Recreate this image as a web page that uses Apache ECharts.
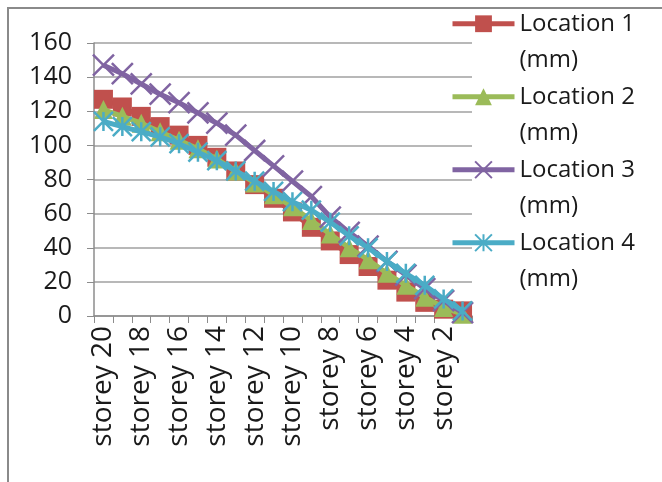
<!DOCTYPE html>
<html>
<head>
<meta charset="utf-8">
<script src="https://cdn.jsdelivr.net/npm/echarts@6/dist/echarts.min.js"></script>
<style>
  html, body { margin: 0; padding: 0; background: #fff; }
  #main { width: 662px; height: 482px; }
</style>
</head>
<body>
<div id="main"></div>
<script>
// storey 20 down to storey 1
var storeys = ['storey 20', 'storey 19', 'storey 18', 'storey 17', 'storey 16', 'storey 15', 'storey 14',
    'storey 13', 'storey 12', 'storey 11', 'storey 10', 'storey 9', 'storey 8', 'storey 7',
    'storey 6', 'storey 5', 'storey 4', 'storey 3', 'storey 2', 'storey 1'];

var location1 = [127, 122.5, 117, 111, 106, 100, 93, 85, 77, 69, 61, 52, 44, 36, 29, 21, 14, 8, 4, 3];
var location2 = [121, 117, 113, 108, 103, 98, 92, 85, 78, 71, 64, 56, 48, 40, 33, 25, 18, 11, 5, 1];
var location3 = [147, 142, 136, 130, 125, 119, 113, 106, 97, 88, 79, 70, 58, 49, 41, 32, 24, 16, 9, 2];
var location4 = [114, 111, 108, 105, 101, 96, 91, 85, 79, 73, 67, 62, 55, 47, 40, 32, 25, 18, 10, 3];

var names = ['Location 1 (mm)', 'Location 2 (mm)', 'Location 3 (mm)', 'Location 4 (mm)'];
var colors = ['#C0504D', '#9BBB59', '#8064A2', '#4BACC6'];

var FONT = 'Open Sans';

var chart = echarts.init(document.getElementById('main'), null, {renderer: 'canvas'});

var mkSeries = function (i, data, symbol, size, border) {
    return {
        name: names[i],
        type: 'line',
        data: data,
        symbol: symbol,
        symbolSize: size,
        showAllSymbol: true,
        z: 2 + i,
        lineStyle: {color: colors[i], width: 5},
        itemStyle: {
            color: colors[i],
            borderColor: colors[i],
            borderWidth: border
        },
        emphasis: {disabled: true}
    };
};

chart.setOption({
    animation: false,
    color: colors,
    textStyle: {fontFamily: FONT},
    graphic: [{
        type: 'rect',
        shape: {x: 8, y: 8, width: 700, height: 500},
        style: {fill: 'none', stroke: '#8a8a8a', lineWidth: 2},
        silent: true
    }],
    grid: {
        left: 94,
        right: 190,
        top: 43,
        bottom: 166,
        containLabel: false
    },
    legend: {
        orient: 'vertical',
        left: 450,
        top: -31,
        padding: 0,
        itemGap: -36.5,
        itemWidth: 62,
        itemHeight: 21,
        lineStyle: {width: 5},
        data: names,
        formatter: function (name) {
            // icon sits beside the first line of text
            return '\n' + name.replace(' (', '\n(');
        },
        textStyle: {
            fontFamily: FONT,
            fontSize: 24,
            lineHeight: 36.5,
            color: '#1a1a1a'
        }
    },
    xAxis: {
        type: 'category',
        data: storeys,
        boundaryGap: true,
        axisLine: {lineStyle: {color: '#8c8c8c', width: 1.5}},
        axisTick: {show: true, interval: 0, length: 7, lineStyle: {color: '#8c8c8c'}},
        axisLabel: {
            interval: 1,
            rotate: 90,
            margin: 10,
            fontFamily: FONT,
            fontSize: 28,
            color: '#1a1a1a'
        },
        splitLine: {show: false}
    },
    yAxis: {
        type: 'value',
        min: 0,
        max: 160,
        interval: 20,
        axisLine: {show: true, lineStyle: {color: '#8c8c8c', width: 1.5}},
        axisTick: {show: true, length: 7, lineStyle: {color: '#8c8c8c'}},
        axisLabel: {
            margin: 22,
            fontFamily: FONT,
            fontSize: 25,
            color: '#1a1a1a'
        },
        splitLine: {lineStyle: {color: '#a0a0a0', width: 1.5}}
    },
    series: [
        mkSeries(0, location1, 'rect', 19, 0),
        mkSeries(1, location2, 'triangle', 19, 0),
        mkSeries(2, location3, 'path://M0,0L10,10M10,0L0,10', 21, 2.5),
        mkSeries(3, location4, 'path://M5,0L5,10M0,0L10,10M10,0L0,10', 19, 2.5)
    ]
});
</script>
</body>
</html>
